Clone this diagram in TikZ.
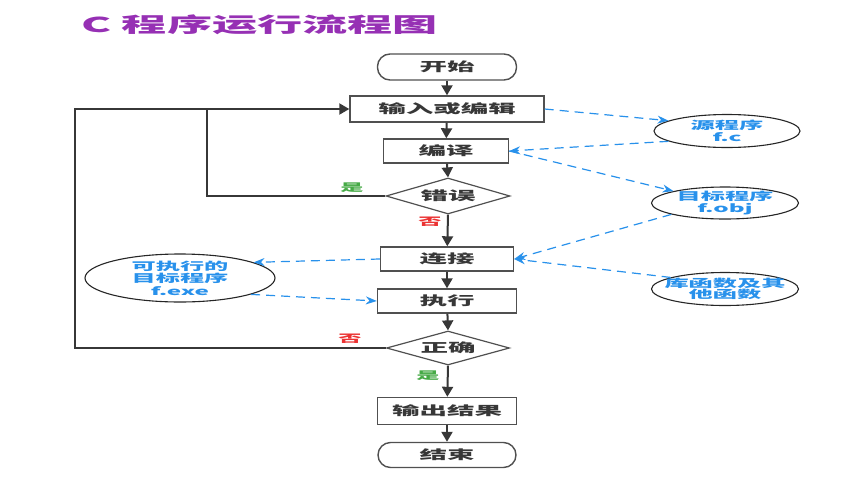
\documentclass[tikz,border=0pt]{standalone}
\usepackage{fontspec}
\usetikzlibrary{arrows.meta,shapes.geometric}
\newfontfamily\cjk[FakeStretch=2.2]{Noto Sans CJK SC}
\definecolor{ttl}{RGB}{150,48,180}
\definecolor{blu}{RGB}{40,145,235}
\definecolor{dk}{RGB}{55,55,55}
\definecolor{bd}{RGB}{80,80,80}
\definecolor{grn}{RGB}{70,170,70}
\definecolor{rd}{RGB}{235,50,50}
\tikzset{
  boxstyle/.style={draw=bd, line width=1.4pt, rectangle, inner sep=0pt, text=dk, font=\cjk\bfseries\fontsize{12.5}{14}\selectfont},
  roundbox/.style={boxstyle, rounded corners=12.5pt},
  decision/.style={draw=bd, line width=1.2pt, diamond, inner sep=0pt, text=dk, font=\cjk\bfseries\fontsize{12.5}{14}\selectfont},
  oval/.style={draw=black!85, line width=1.1pt, ellipse, inner sep=0pt},
  ovaltext/.style={text=blu, align=center, font=\cjk\bfseries\fontsize{11}{11.5}\selectfont},
  flow/.style={draw=dk, line width=2pt, -{Triangle[length=10pt,width=11pt]}},
  flowline/.style={draw=dk, line width=2pt},
  dataflow/.style={draw=blu, line width=1.2pt, dash pattern=on 9pt off 6pt, -{Stealth[length=11pt,width=8pt]}},
  yeslabel/.style={text=grn, font=\cjk\bfseries\fontsize{10.5}{11}\selectfont},
  nolabel/.style={text=rd, font=\cjk\bfseries\fontsize{10.5}{11}\selectfont}
}
\begin{document}
\begin{tikzpicture}[x=1pt,y=-1pt]
\useasboundingbox (0,0) rectangle (849,480);
\node[anchor=west, text=ttl, font=\cjk\bfseries\fontsize{20.5}{21}\selectfont] (title) at (78,25) {C 程序运行流程图};
% main flow
\node[roundbox, minimum width=139pt, minimum height=26pt] (start) at (447,67) {开始};
\node[boxstyle, minimum width=194pt, minimum height=26pt] (edit) at (447,109) {输入或编辑};
\node[boxstyle, minimum width=125pt, minimum height=24pt] (cmp) at (446,151) {编译};
\node[decision, minimum width=124pt, minimum height=36pt, shape aspect=3.4] (err) at (448,196) {错误};
\node[boxstyle, minimum width=133pt, minimum height=24pt] (link) at (447,259) {连接};
\node[boxstyle, minimum width=139pt, minimum height=24pt] (run) at (447,301) {执行};
\node[decision, minimum width=123pt, minimum height=34pt, shape aspect=3.6] (ok) at (448,348) {正确};
\node[boxstyle, minimum width=139pt, minimum height=27pt] (out) at (447,411) {输出结果};
\node[roundbox, minimum width=138pt, minimum height=25pt] (end) at (447,455) {结束};
% ellipses
\node[oval, minimum width=146pt, minimum height=33pt] (src) at (727,131) {};
\node[ovaltext] (srct) at (src) {源程序\\f.c};
\node[oval, minimum width=147pt, minimum height=32pt] (obj) at (725,203) {};
\node[ovaltext] (objt) at (obj) {目标程序\\f.obj};
\node[oval, minimum width=147pt, minimum height=33pt] (lib) at (725,289) {};
\node[ovaltext] (libt) at (lib) {库函数及其\\他函数};
\node[oval, minimum width=190pt, minimum height=48pt] (exe) at (180,278) {};
\node[ovaltext, font=\cjk\bfseries\fontsize{11}{12.5}\selectfont] (exet) at (exe) {可执行的\\目标程序\\f.exe};
% main arrows
\draw[flow] (start) -- (edit);
\draw[flow] (edit) -- (cmp);
\draw[flow] (cmp) -- (err.north);
\draw[flow] (err.south) -- (link);
\draw[flow] (link) -- (run);
\draw[flow] (run) -- (ok.north);
\draw[flow] (ok.south) -- (out);
\draw[flow] (out) -- (end);
% loops
\coordinate (l1) at (207,109);
\coordinate (l2) at (75,109);
\draw[flow] (err.west) -| (l1) -- (edit.west);
\draw[flowline] (ok.west) -| (l2) -- (l1);
\node[yeslabel] (y1) at (352,188) {是};
\node[nolabel] (n1) at (430,222) {否};
\node[nolabel] (n2) at (350,339) {否};
\node[yeslabel] (y2) at (428,376) {是};
% data flows
\draw[dataflow] (edit.east) -- (src.170);
\draw[dataflow] (src.190) -- (cmp.east);
\draw[dataflow] (cmp.east) -- (obj.167);
\draw[dataflow] (obj.192) -- (link.east);
\draw[dataflow] (lib.168) -- (link.east);
\draw[dataflow] (link.west) -- (exe.12);
\draw[dataflow] (exe.-13) -- (run.west);
\end{tikzpicture}
\end{document}
